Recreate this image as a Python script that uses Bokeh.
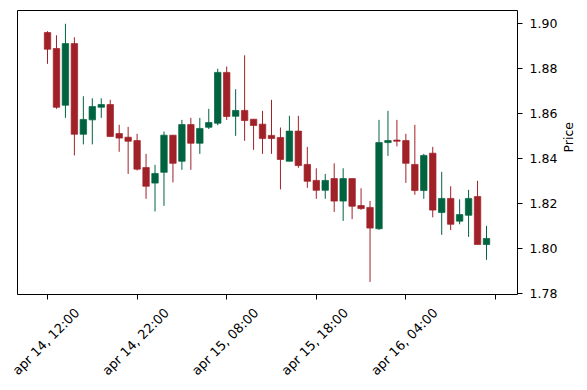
import math
from bokeh.plotting import figure
from bokeh.models import ColumnDataSource, FixedTicker, Range1d, NumeralTickFormatter, LinearAxis
from bokeh.embed import file_html
from bokeh.resources import INLINE

# hourly candles starting apr 14, 12:00
opens = [1.8961, 1.8890, 1.8638, 1.8912, 1.8509, 1.8573, 1.8629, 1.8641, 1.8512, 1.8496,
         1.8481, 1.8361, 1.8292, 1.8340, 1.8505, 1.8389, 1.8552, 1.8469, 1.8540, 1.8558,
         1.8784, 1.8589, 1.8615, 1.8576, 1.8554, 1.8504, 1.8495, 1.8389, 1.8523, 1.8375,
         1.8304, 1.8260, 1.8312, 1.8212, 1.8312, 1.8192, 1.8184, 1.8089, 1.8472, 1.8483,
         1.8481, 1.8375, 1.8259, 1.8425, 1.8161, 1.8224, 1.8123, 1.8149, 1.8232, 1.8019]
highs = [1.8967, 1.8949, 1.9000, 1.8940, 1.8678, 1.8669, 1.8669, 1.8662, 1.8551, 1.8542,
         1.8511, 1.8422, 1.8373, 1.8521, 1.8505, 1.8573, 1.8582, 1.8582, 1.8622, 1.8800,
         1.8810, 1.8709, 1.8860, 1.8576, 1.8613, 1.8662, 1.8539, 1.8591, 1.8591, 1.8453,
         1.8358, 1.8333, 1.8380, 1.8358, 1.8312, 1.8269, 1.8213, 1.8573, 1.8613, 1.8573,
         1.8511, 1.8551, 1.8422, 1.8453, 1.8342, 1.8278, 1.8220, 1.8262, 1.8302, 1.8102]
lows = [1.8822, 1.8622, 1.8582, 1.8415, 1.8464, 1.8464, 1.8582, 1.8499, 1.8431, 1.8333,
        1.8348, 1.8222, 1.8166, 1.8191, 1.8295, 1.8351, 1.8351, 1.8422, 1.8532, 1.8549,
        1.8573, 1.8502, 1.8480, 1.8440, 1.8422, 1.8422, 1.8264, 1.8389, 1.8360, 1.8271,
        1.8222, 1.8222, 1.8164, 1.8124, 1.8132, 1.8173, 1.7853, 1.8084, 1.8413, 1.8455,
        1.8293, 1.8240, 1.8222, 1.8140, 1.8062, 1.8083, 1.8109, 1.8053, 1.8019, 1.7951]
closes = [1.8887, 1.8629, 1.8912, 1.8509, 1.8575, 1.8632, 1.8641, 1.8499, 1.8492, 1.8478,
          1.8354, 1.8278, 1.8335, 1.8505, 1.8380, 1.8552, 1.8469, 1.8535, 1.8561, 1.8784,
          1.8588, 1.8615, 1.8570, 1.8548, 1.8490, 1.8490, 1.8397, 1.8523, 1.8370, 1.8300,
          1.8260, 1.8304, 1.8212, 1.8312, 1.8189, 1.8179, 1.8092, 1.8472, 1.8481, 1.8478,
          1.8380, 1.8259, 1.8415, 1.8172, 1.8224, 1.8109, 1.8152, 1.8224, 1.8019, 1.8046]

x_ticks = [0, 10, 20, 30, 40, 50]
x_tick_labels = ["apr 14, 12:00", "apr 14, 22:00", "apr 15, 08:00", "apr 15, 18:00", "apr 16, 04:00", ""]
y_ticks = [1.78, 1.80, 1.82, 1.84, 1.86, 1.88, 1.90]

UP = "#006340"
DOWN = "#a02128"

idx = list(range(len(opens)))
colors = [UP if c >= o else DOWN for o, c in zip(opens, closes)]
src = ColumnDataSource(dict(
    x=idx, o=opens, h=highs, l=lows, c=closes,
    top=[max(o, c) for o, c in zip(opens, closes)],
    bottom=[min(o, c) for o, c in zip(opens, closes)],
    color=colors,
))

X0, X1 = -3.35, 52.46
LABEL_SHIFT = 3.3  # moves the rotated labels so they are centred under their ticks

p = figure(width=587, height=390, output_backend="svg", toolbar_location=None,
           y_axis_location="right",
           x_range=Range1d(X0, X1), y_range=Range1d(1.7797, 1.9059),
           min_border_left=17, min_border_top=10, min_border_right=70, min_border_bottom=96)

p.segment(x0="x", y0="h", x1="x", y1="l", source=src, line_color="color", line_width=1)
p.vbar(x="x", top="top", bottom="bottom", width=0.72, source=src,
       fill_color="color", line_color="color", line_width=0.7)

p.grid.visible = False
p.outline_line_color = "black"
p.outline_line_alpha = 1
p.outline_line_width = 1
p.background_fill_color = "white"
p.border_fill_color = "white"

# tick marks axis
xa = p.xaxis[0]
xa.ticker = FixedTicker(ticks=x_ticks)
xa.major_label_overrides = {t: "" for t in x_ticks}
xa.axis_line_color = None
xa.major_tick_in = 0
xa.major_tick_out = 5
xa.major_tick_line_color = "black"
xa.minor_tick_line_color = None
xa.major_label_text_font_size = "0px"
xa.major_label_standoff = 0

# label axis (rotated date labels)
p.extra_x_ranges = {"lab": Range1d(X0 - LABEL_SHIFT, X1 - LABEL_SHIFT)}
la = LinearAxis(x_range_name="lab")
la.ticker = FixedTicker(ticks=x_ticks)
la.major_label_overrides = {t: lab for t, lab in zip(x_ticks, x_tick_labels)}
la.major_label_orientation = math.pi / 4
la.axis_line_color = None
la.major_tick_in = 0
la.major_tick_out = 0
la.major_tick_line_color = None
la.minor_tick_line_color = None
la.major_label_text_font = "DejaVu Sans"
la.major_label_text_font_size = "13px"
la.major_label_text_color = "black"
la.major_label_standoff = 11
p.add_layout(la, "below")

ya = p.yaxis[0]
ya.ticker = FixedTicker(ticks=y_ticks)
ya.formatter = NumeralTickFormatter(format="0.00")
ya.axis_line_color = None
ya.major_tick_in = 0
ya.major_tick_out = 5
ya.major_tick_line_color = "black"
ya.minor_tick_line_color = None
ya.major_label_text_font = "DejaVu Sans"
ya.major_label_text_font_size = "12.5px"
ya.major_label_text_color = "black"
ya.major_label_standoff = 7
ya.axis_label = "Price"
ya.axis_label_text_font = "DejaVu Sans"
ya.axis_label_text_font_size = "12.5px"
ya.axis_label_text_font_style = "normal"
ya.axis_label_text_color = "black"
ya.axis_label_standoff = 8
if "axis_label_orientation" in ya.properties():
    ya.axis_label_orientation = math.pi / 2

open("out.html", "w").write(file_html(p, INLINE))
